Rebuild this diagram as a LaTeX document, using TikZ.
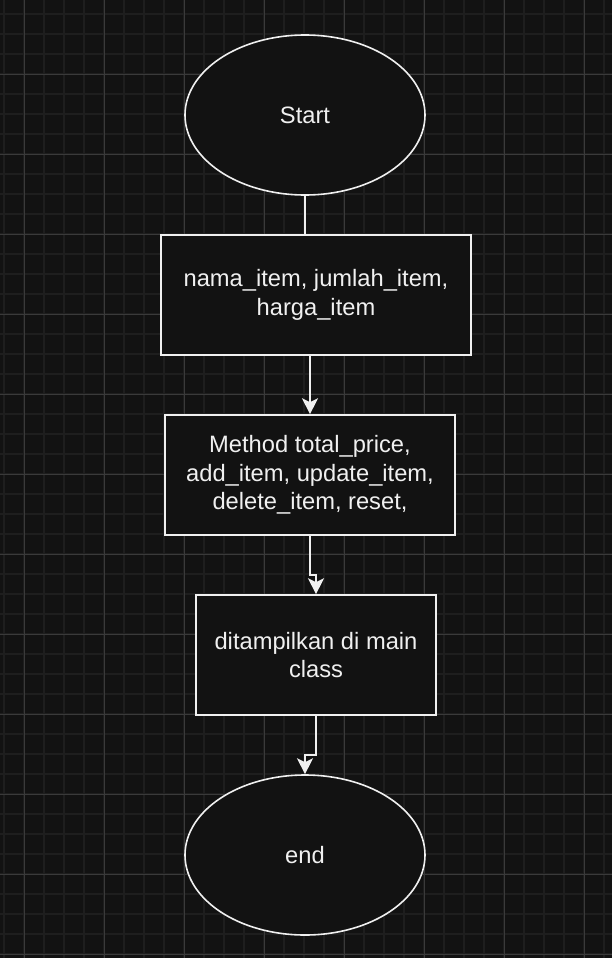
\documentclass[tikz,border=0pt]{standalone}
\usepackage{fontspec}
\setmainfont{Liberation Sans}
\usetikzlibrary{arrows.meta,shapes.geometric}
\definecolor{bgc}{HTML}{121212}
\definecolor{minorc}{HTML}{1E1E1E}
\definecolor{majorc}{HTML}{3A3A3A}
\definecolor{fg}{HTML}{F0F0F0}
\begin{document}
\begin{tikzpicture}[x=1pt,y=-1pt,
  shp/.style={draw=fg,line width=1.6pt,fill=bgc,text=fg,align=center,
    font=\fontsize{23.7}{28.5}\selectfont,inner sep=0pt},
  oval/.style={shp,ellipse,minimum width=240pt,minimum height=160pt},
  boxx/.style={shp,rectangle,minimum height=120pt},
  conn/.style={draw=fg,line width=1.6pt},
  arr/.style={conn,-{Stealth[length=16pt,width=16pt,inset=4pt]}}]
\fill[bgc] (0,0) rectangle (612,958);
\useasboundingbox (0,0) rectangle (612,958);
\foreach \x in {4,24,...,612} \draw[minorc,line width=1.4pt] (\x,0) -- (\x,958);
\foreach \y in {14,34,...,958} \draw[minorc,line width=1.4pt] (0,\y) -- (612,\y);
\foreach \x in {24,104,...,612} \draw[majorc,line width=0.8pt] (\x,0) -- (\x,958);
\foreach \y in {74,154,...,958} \draw[majorc,line width=0.8pt] (0,\y) -- (612,\y);
\node[oval] (start) at (305,115) {Start};
\node[boxx,minimum width=310pt] (b1) at (316,295) {nama\_item, jumlah\_item,\\harga\_item};
\node[boxx,minimum width=290pt] (b2) at (310,475) {Method total\_price,\\add\_item, update\_item,\\delete\_item, reset,};
\node[boxx,minimum width=240pt] (b3) at (316,655) {ditampilkan di main\\class};
\node[oval] (end) at (305,855) {end};
\coordinate (k1) at (310,575);
\coordinate (k2) at (316,575);
\coordinate (k3) at (316,755);
\coordinate (k4) at (305,755);
\draw[conn] (start.south) -- (start.south |- b1.north);
\draw[arr] (b2.north |- b1.south) -- (b2.north);
\draw[arr] (b2.south) -- (k1) -- (k2) -- (b3.north);
\draw[arr] (b3.south) -- (k3) -- (k4) -- (end.north);
\end{tikzpicture}
\end{document}
